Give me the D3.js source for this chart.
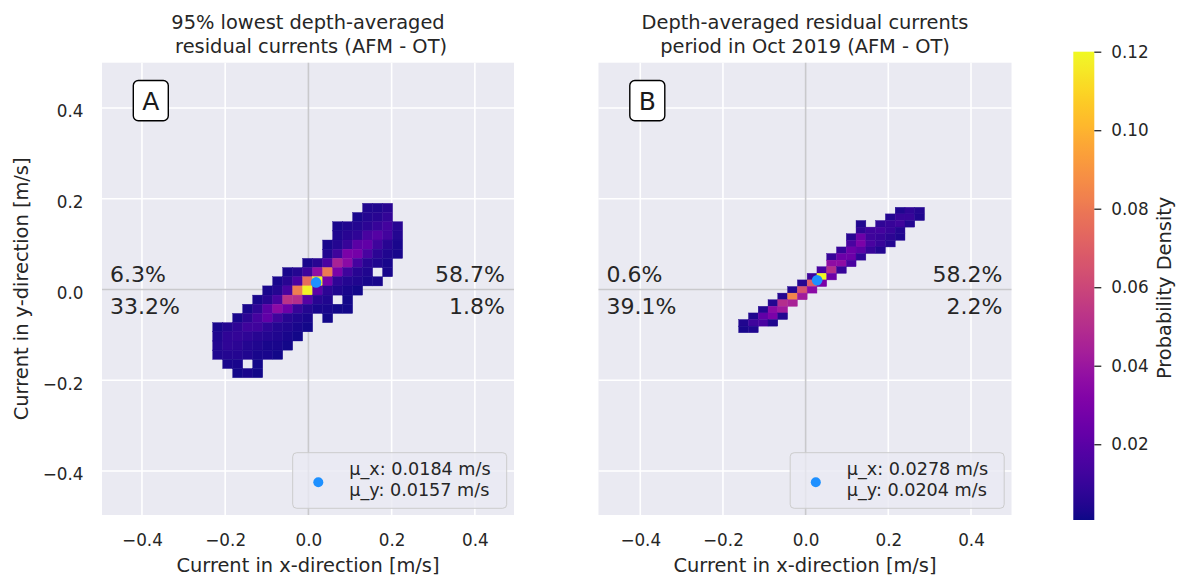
<!DOCTYPE html>
<html><head><meta charset="utf-8">
<script src="https://cdn.jsdelivr.net/npm/d3@7"></script>
<style>
body{margin:0;background:#fff}
text{font-family:"DejaVu Sans",sans-serif;fill:#262626}
</style>
</head><body>
<svg id="c" width="1182" height="580"></svg>
<script>
// ---------- data ----------
const axisTicks = [-0.4, -0.2, 0, 0.2, 0.4];
const cbTicks = [0.02, 0.04, 0.06, 0.08, 0.10, 0.12];
const densityRange = [0.0007, 0.12];

const titleA = ["95% lowest depth-averaged", " residual currents (AFM - OT)"];
const titleB = ["Depth-averaged residual currents", "period in Oct 2019 (AFM - OT)"];
const xLabel = "Current in x-direction [m/s]";
const yLabel = "Current in y-direction [m/s]";
const cbLabel = "Probability Density";

const meanA = [0.0184, 0.0157];
const meanB = [0.0278, 0.0204];
const legendA = ["μ_x: 0.0184 m/s", "μ_y: 0.0157 m/s"];
const legendB = ["μ_x: 0.0278 m/s", "μ_y: 0.0204 m/s"];
// quadrant percentages: [upper-left, lower-left, upper-right, lower-right]
const quadA = ["6.3%", "33.2%", "58.7%", "1.8%"];
const quadB = ["0.6%", "39.1%", "58.2%", "2.2%"];

const xEdgesA = [-0.2299,-0.2059,-0.1819,-0.1579,-0.1338,-0.1098,-0.0858,-0.0618,-0.0378,-0.0138,
                 0.0102,0.0343,0.0583,0.0823,0.1063,0.1303,0.1543,0.1783,0.2023,0.2264];
const yEdgesA = [0.1900,0.1698,0.1495,0.1293,0.1091,0.0889,0.0686,0.0484,0.0282,0.0080,
                 -0.0123,-0.0325,-0.0527,-0.0730,-0.0932,-0.1134,-0.1336,-0.1539,-0.1741,-0.1943];
const densA = [
 [0,0,0,0,0,0,0,0,0,0,0,0,0,0,0,.004,.004,.006,0],
 [0,0,0,0,0,0,0,0,0,0,0,0,0,0,.003,.005,.006,.009,0],
 [0,0,0,0,0,0,0,0,0,0,0,0,.003,.004,.005,.007,.010,.013,.006],
 [0,0,0,0,0,0,0,0,0,0,0,0,.004,.006,.008,.015,.018,.013,.005],
 [0,0,0,0,0,0,0,0,0,0,0,.003,.005,.010,.020,.022,.012,.006,.003],
 [0,0,0,0,0,0,0,0,0,0,0,.004,.012,.030,.028,.015,.007,.004,.003],
 [0,0,0,0,0,0,0,0,0,.003,.006,.016,.045,.035,.014,.006,.004,.003,0],
 [0,0,0,0,0,0,0,.003,.005,.012,.037,.080,.030,.012,.006,.004,0,.003,0],
 [0,0,0,0,0,0,.003,.006,.016,.076,.120,.028,.008,.005,.004,.003,.003,0,0],
 [0,0,0,0,0,.003,.005,.015,.082,.118,.020,.007,.004,.003,.002,0,0,0,0],
 [0,0,0,0,.003,.006,.015,.052,.050,.018,.006,.004,0,.002,0,0,0,0,0],
 [0,0,0,.003,.008,.020,.035,.025,.010,.005,.003,.003,.002,.002,0,0,0,0,0],
 [0,0,.003,.007,.014,.022,.012,.006,.004,.003,0,.002,0,0,0,0,0,0,0],
 [.003,.005,.008,.012,.012,.008,.005,.004,.003,.002,0,0,0,0,0,0,0,0,0],
 [.004,.008,.009,.008,.006,.005,.004,.003,.002,0,0,0,0,0,0,0,0,0,0],
 [.005,.008,.007,.005,.004,.003,.003,.002,0,0,0,0,0,0,0,0,0,0,0],
 [.004,.005,.005,.004,.003,.003,.002,0,0,0,0,0,0,0,0,0,0,0,0],
 [0,.003,.003,0,.002,0,0,0,0,0,0,0,0,0,0,0,0,0,0],
 [0,0,.002,.003,.002,0,0,0,0,0,0,0,0,0,0,0,0,0,0]
];

const xEdgesB = [-0.1619,-0.1382,-0.1146,-0.0909,-0.0673,-0.0436,-0.0199,0.0037,0.0274,0.0510,
                 0.0747,0.0984,0.1220,0.1457,0.1693,0.1930,0.2167,0.2403,0.2640,0.2876];
const yEdgesB = [0.1812,0.1667,0.1521,0.1376,0.1230,0.1085,0.0939,0.0794,0.0648,0.0503,
                 0.0357,0.0212,0.0066,-0.0079,-0.0225,-0.0370,-0.0516,-0.0661,-0.0807,-0.0952];
const densB = [
 [0,0,0,0,0,0,0,0,0,0,0,0,0,0,0,0,.004,.008,.005],
 [0,0,0,0,0,0,0,0,0,0,0,0,0,0,0,.005,.010,.010,.004],
 [0,0,0,0,0,0,0,0,0,0,0,0,.004,0,.008,.010,.012,.005,0],
 [0,0,0,0,0,0,0,0,0,0,0,0,.008,.012,.013,.010,.005,0,0],
 [0,0,0,0,0,0,0,0,0,0,0,.006,.025,.012,.010,.007,.004,0,0],
 [0,0,0,0,0,0,0,0,0,0,0,.015,.030,.015,.010,.005,0,0,0],
 [0,0,0,0,0,0,0,0,0,0,.010,.025,.020,.010,.005,0,0,0,0],
 [0,0,0,0,0,0,0,0,0,.010,.025,.025,.008,0,0,0,0,0,0],
 [0,0,0,0,0,0,0,0,0,.036,.036,.015,0,0,0,0,0,0,0],
 [0,0,0,0,0,0,0,0,.015,.050,.010,0,0,0,0,0,0,0,0],
 [0,0,0,0,0,0,0,.012,.120,.025,0,0,0,0,0,0,0,0,0],
 [0,0,0,0,0,0,.005,.070,.030,0,0,0,0,0,0,0,0,0,0],
 [0,0,0,0,0,.005,.065,.035,0,0,0,0,0,0,0,0,0,0,0],
 [0,0,0,0,.005,.085,.042,0,0,0,0,0,0,0,0,0,0,0,0],
 [0,0,0,.005,.050,.045,0,0,0,0,0,0,0,0,0,0,0,0,0],
 [0,0,.005,.035,.042,0,0,0,0,0,0,0,0,0,0,0,0,0,0],
 [0,.004,.022,.030,.005,0,0,0,0,0,0,0,0,0,0,0,0,0,0],
 [.004,.012,.015,.004,0,0,0,0,0,0,0,0,0,0,0,0,0,0,0],
 [.003,.004,0,0,0,0,0,0,0,0,0,0,0,0,0,0,0,0,0]
];

// ---------- drawing ----------
const svg = d3.select("#c");
const color = d3.scaleSequential(d3.interpolatePlasma).domain(densityRange);
const TOP = 62.7, BOTTOM = 515;

function panel(cfg) {
  const g = svg.append("g");
  const x = d3.scaleLinear().domain(cfg.xDom).range([cfg.left, cfg.right]);
  const y = d3.scaleLinear().domain([-0.497, 0.5]).range([BOTTOM, TOP]);

  g.append("rect").attr("x", cfg.left).attr("y", TOP)
    .attr("width", cfg.right - cfg.left).attr("height", BOTTOM - TOP).attr("fill", "#eaeaf2");

  // grid
  g.selectAll(".gx").data(axisTicks.filter(d => d !== 0)).join("line")
    .attr("x1", d => x(d)).attr("x2", d => x(d)).attr("y1", TOP).attr("y2", BOTTOM)
    .attr("stroke", "#fff").attr("stroke-width", 1.6);
  g.selectAll(".gy").data(axisTicks.filter(d => d !== 0)).join("line")
    .attr("y1", d => y(d)).attr("y2", d => y(d)).attr("x1", cfg.left).attr("x2", cfg.right)
    .attr("stroke", "#fff").attr("stroke-width", 1.6);
  // zero lines
  g.append("line").attr("x1", x(0)).attr("x2", x(0)).attr("y1", TOP).attr("y2", BOTTOM)
    .attr("stroke", "#c9c9cc").attr("stroke-width", 1.6);
  g.append("line").attr("y1", y(0)).attr("y2", y(0)).attr("x1", cfg.left).attr("x2", cfg.right)
    .attr("stroke", "#c9c9cc").attr("stroke-width", 1.6);

  // heatmap cells
  const cells = [];
  cfg.dens.forEach((row, r) => row.forEach((v, c) => { if (v > 0) cells.push({r, c, v}); }));
  g.selectAll(".cell").data(cells).join("rect")
    .attr("x", d => x(cfg.xe[d.c]))
    .attr("y", d => y(cfg.ye[d.r]))
    .attr("width", d => x(cfg.xe[d.c + 1]) - x(cfg.xe[d.c]))
    .attr("height", d => y(cfg.ye[d.r + 1]) - y(cfg.ye[d.r]))
    .attr("fill", d => color(d.v))
    .attr("stroke", d => color(d.v)).attr("stroke-width", 0.4);

  // mean point
  g.append("circle").attr("cx", x(cfg.mean[0])).attr("cy", y(cfg.mean[1])).attr("r", 5.3)
    .attr("fill", "#1e90ff");

  // quadrant percentages
  const qf = 22;
  g.append("text").attr("x", cfg.left + 8).attr("y", 282).attr("font-size", qf).text(cfg.quad[0]);
  g.append("text").attr("x", cfg.left + 8).attr("y", 314).attr("font-size", qf).text(cfg.quad[1]);
  g.append("text").attr("x", cfg.right - 9).attr("y", 282).attr("font-size", qf)
    .attr("text-anchor", "end").text(cfg.quad[2]);
  g.append("text").attr("x", cfg.right - 9).attr("y", 314).attr("font-size", qf)
    .attr("text-anchor", "end").text(cfg.quad[3]);

  // legend
  const lw = 214, lx = cfg.right - 7.3 - lw, ly = 452.7;
  g.append("rect").attr("x", lx).attr("y", ly).attr("width", lw).attr("height", 55.6)
    .attr("rx", 4).attr("fill", "#eaeaf2").attr("fill-opacity", 0.8)
    .attr("stroke", "#cccccc").attr("stroke-width", 1);
  g.append("circle").attr("cx", lx + 25.6).attr("cy", 482.3).attr("r", 5).attr("fill", "#1e90ff");
  g.append("text").attr("x", lx + 56.6).attr("y", 474.5).attr("font-size", 17.6).text(cfg.legend[0]);
  g.append("text").attr("x", lx + 56.6).attr("y", 495.5).attr("font-size", 17.6).text(cfg.legend[1]);

  // panel letter
  g.append("rect").attr("x", cfg.left + 31.3).attr("y", 80.5).attr("width", 35).attr("height", 40.3)
    .attr("rx", 5).attr("fill", "#fff").attr("stroke", "#000").attr("stroke-width", 1.4);
  g.append("text").attr("x", cfg.left + 48.8).attr("y", 110).attr("font-size", 25)
    .attr("text-anchor", "middle").style("fill", "#1a1a1a").text(cfg.letter);

  // title
  const cx = (cfg.left + cfg.right) / 2;
  g.append("text").attr("x", cx).attr("y", 29).attr("font-size", 19.4)
    .attr("text-anchor", "middle").attr("xml:space", "preserve").text(cfg.title[0]);
  g.append("text").attr("x", cx).attr("y", 53).attr("font-size", 19.4)
    .attr("text-anchor", "middle").attr("xml:space", "preserve").text(cfg.title[1]);

  // x axis
  const ax = g.append("g").attr("transform", `translate(0,${BOTTOM})`)
    .call(d3.axisBottom(x).tickValues(axisTicks).tickFormat(d3.format(".1f")).tickSize(0).tickPadding(18.6));
  ax.select(".domain").remove();
  ax.selectAll("text").attr("font-size", 16.8).attr("font-family", null).style("fill", "#262626");
  g.append("text").attr("x", cx).attr("y", 571.5).attr("font-size", 19.4)
    .attr("text-anchor", "middle").text(xLabel);

  if (cfg.showY) {
    const ay = g.append("g").attr("transform", `translate(${cfg.left},0)`)
      .call(d3.axisLeft(y).tickValues(axisTicks).tickFormat(d3.format(".1f")).tickSize(0).tickPadding(18.5));
    ay.select(".domain").remove();
    ay.selectAll("text").attr("font-size", 16.8).attr("font-family", null).attr("dy", "0.52em")
      .style("fill", "#262626");
    g.append("text").attr("transform", `translate(27.5,${(TOP + BOTTOM) / 2}) rotate(-90)`)
      .attr("font-size", 19.4).attr("text-anchor", "middle").text(yLabel);
  }
}

panel({left: 102, right: 514, xDom: [-0.496, 0.494], xe: xEdgesA, ye: yEdgesA, dens: densA,
       mean: meanA, quad: quadA, legend: legendA, letter: "A", title: titleA, showY: true});
panel({left: 598.5, right: 1011.5, xDom: [-0.501, 0.498], xe: xEdgesB, ye: yEdgesB, dens: densB,
       mean: meanB, quad: quadB, legend: legendB, letter: "B", title: titleB, showY: false});

// colorbar
const cbX = 1073.3, cbW = 21, cbTop = 51.7, cbBot = 520;
const cy = d3.scaleLinear().domain(densityRange).range([cbBot, cbTop]);
const defs = svg.append("defs");
const grad = defs.append("linearGradient").attr("id", "pl")
  .attr("x1", 0).attr("y1", 1).attr("x2", 0).attr("y2", 0);
grad.selectAll("stop").data(d3.range(0, 1.0001, 0.02)).join("stop")
  .attr("offset", d => d).attr("stop-color", d => d3.interpolatePlasma(d));
svg.append("rect").attr("x", cbX).attr("y", cbTop).attr("width", cbW).attr("height", cbBot - cbTop)
  .attr("fill", "url(#pl)");
const cax = svg.append("g").attr("transform", `translate(${cbX + cbW},0)`)
  .call(d3.axisRight(cy).tickValues(cbTicks).tickFormat(d3.format(".2f")).tickSize(7).tickPadding(10));
cax.select(".domain").remove();
cax.selectAll("line").attr("stroke", "#262626").attr("stroke-width", 1.3);
cax.selectAll("text").attr("font-size", 16.8).attr("font-family", null).style("fill", "#262626");
svg.append("text").attr("transform", `translate(1171,${(cbTop + cbBot) / 2 + 2}) rotate(-90)`)
  .attr("font-size", 19.4).attr("text-anchor", "middle").text(cbLabel);
</script>
</body></html>
